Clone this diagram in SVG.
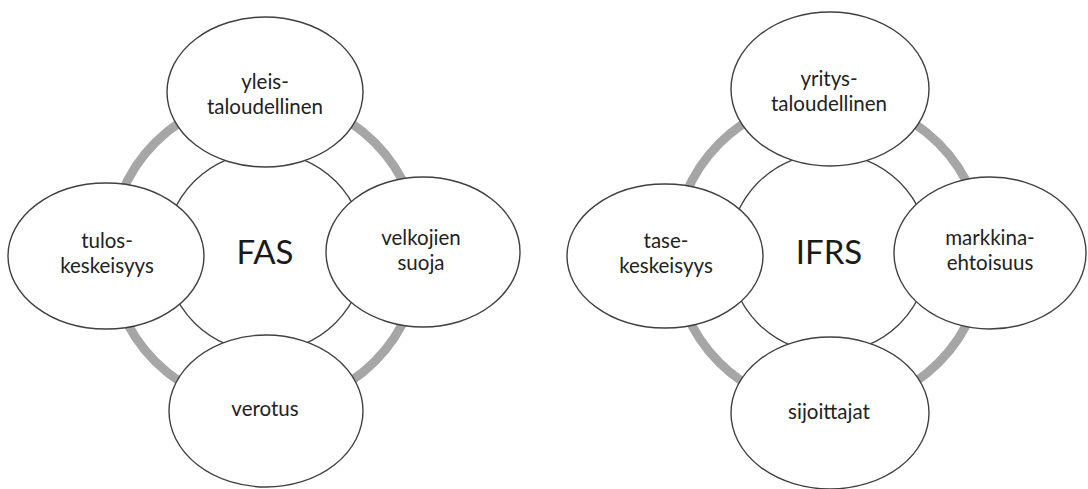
<svg xmlns="http://www.w3.org/2000/svg" width="1088" height="489" viewBox="0 0 1088 489">
<style>
.ring{fill:none;stroke:#a6a6a6;stroke-width:9}
.core{fill:#fff;stroke:#404040;stroke-width:1.3}
.node{fill:#fff;stroke:#404040;stroke-width:1.4}
.lbl{font-family:Lato,"Open Sans","Liberation Sans",sans-serif;font-size:20.5px;fill:#222;text-anchor:middle}
.big{font-family:Lato,"Open Sans","Liberation Sans",sans-serif;font-size:33px;fill:#1a1a1a;text-anchor:middle}
</style>
<rect width="1088" height="489" fill="#fff"/>
<g id="connectors">
<circle class="ring" cx="265" cy="252" r="155"/>
<circle class="ring" cx="829" cy="253" r="155"/>
</g>
<g id="fas">
<circle class="core" cx="265" cy="252" r="100"/>
<text class="big" x="265" y="264">FAS</text>
</g>
<g id="yleistaloudellinen">
<ellipse class="node" cx="265" cy="92" rx="98" ry="75"/>
<text class="lbl" x="265" y="89">yleis-</text>
<text class="lbl" x="265" y="114">taloudellinen</text>
</g>
<g id="tuloskeskeisyys">
<ellipse class="node" cx="106" cy="256" rx="98" ry="73"/>
<text class="lbl" x="107" y="248">tulos-</text>
<text class="lbl" x="107" y="273">keskeisyys</text>
</g>
<g id="velkojiensuoja">
<ellipse class="node" cx="423" cy="252" rx="97" ry="75"/>
<text class="lbl" x="421" y="245">velkojien</text>
<text class="lbl" x="421" y="270">suoja</text>
</g>
<g id="verotus">
<ellipse class="node" cx="266" cy="411" rx="97" ry="76"/>
<text class="lbl" x="265" y="416">verotus</text>
</g>
<g id="ifrs">
<circle class="core" cx="829" cy="253" r="100"/>
<text class="big" x="829" y="264">IFRS</text>
</g>
<g id="yritystaloudellinen">
<ellipse class="node" cx="830" cy="89" rx="99" ry="77"/>
<text class="lbl" x="829" y="86">yritys-</text>
<text class="lbl" x="829" y="111">taloudellinen</text>
</g>
<g id="tasekeskeisyys">
<ellipse class="node" cx="665" cy="256" rx="98" ry="72"/>
<text class="lbl" x="666" y="248">tase-</text>
<text class="lbl" x="666" y="273">keskeisyys</text>
</g>
<g id="markkinaehtoisuus">
<ellipse class="node" cx="990" cy="253" rx="96" ry="76"/>
<text class="lbl" x="990" y="245">markkina-</text>
<text class="lbl" x="990" y="270">ehtoisuus</text>
</g>
<g id="sijoittajat">
<ellipse class="node" cx="830" cy="413" rx="99" ry="76"/>
<text class="lbl" x="829" y="419">sijoittajat</text>
</g>
</svg>
